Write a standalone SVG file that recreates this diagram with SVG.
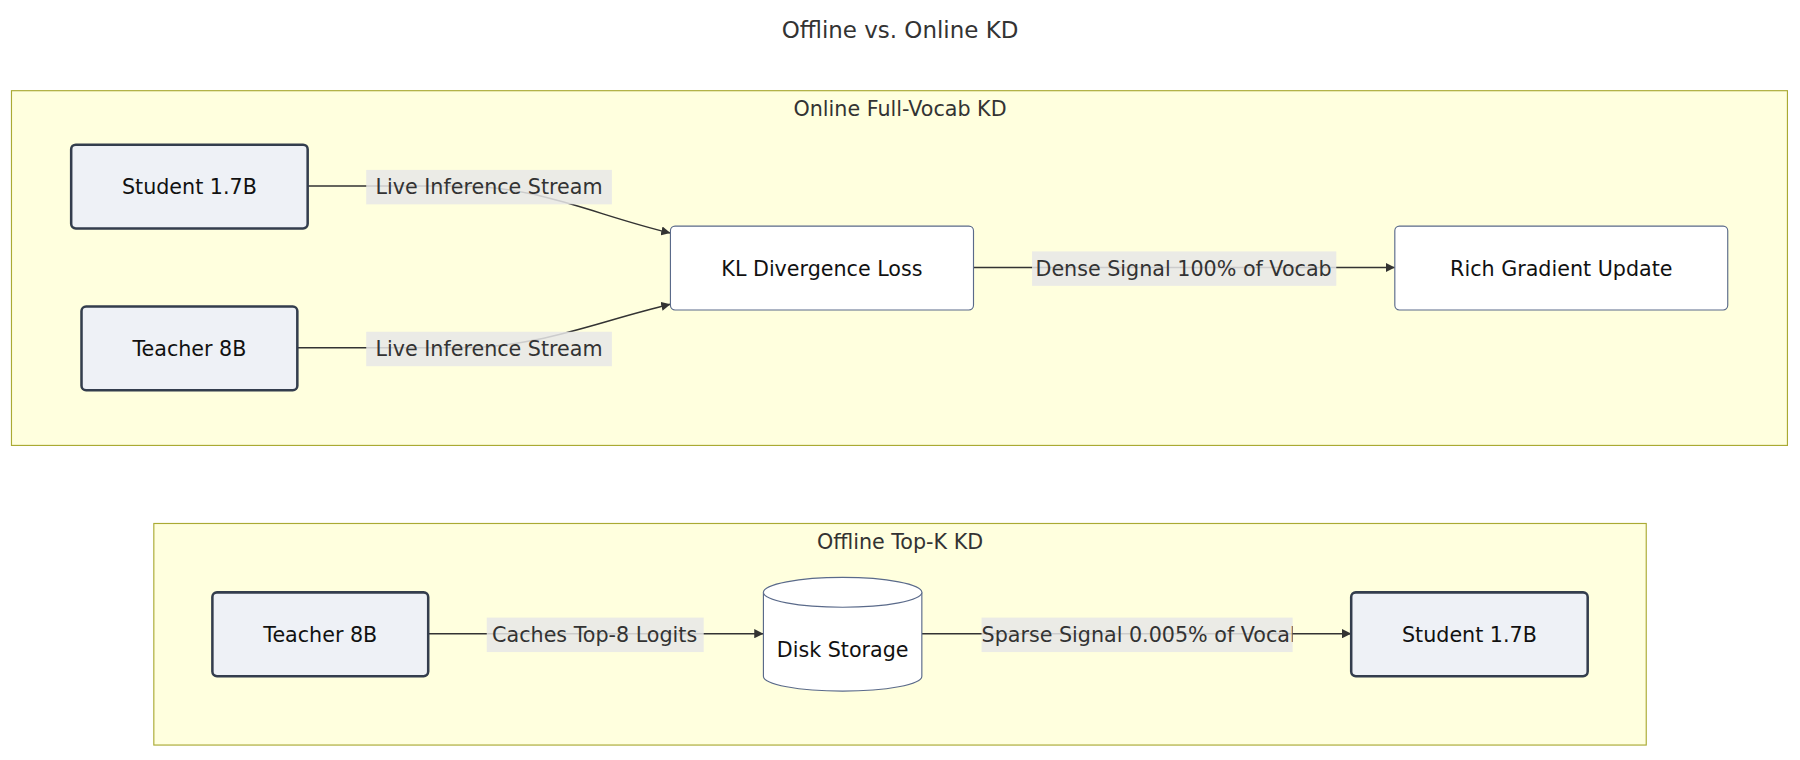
<svg xmlns="http://www.w3.org/2000/svg" width="1800" height="760" viewBox="0 0 1800 760">
<style>
text{font-family:"DejaVu Sans","Liberation Sans",sans-serif;fill:#333;text-anchor:middle;dominant-baseline:central}
.cl{fill:#ffffde;stroke:#aaaa33;stroke-width:1}
.n{fill:#eef1f6;stroke:#333d4d;stroke-width:2.2}
.w{fill:#fff;stroke:#5a6a8a;stroke-width:1}
.e{fill:none;stroke:#333;stroke-width:1.3}
.lb{fill:#e8e8e8;opacity:0.85}
.t{font-size:18px;fill:#111}
</style>
<defs>
<marker id="ar" viewBox="0 0 10 10" refX="10" refY="5" markerWidth="8" markerHeight="8" orient="auto" markerUnits="userSpaceOnUse"><path d="M0,0L10,5L0,10z" fill="#333"/></marker>
<clipPath id="cp"><rect x="855" y="536" width="271" height="32"/></clipPath>
</defs>
<rect width="1800" height="760" fill="#fff"/>
<g transform="scale(1.148)">
<text x="784" y="26" font-size="20">Offline vs. Online KD</text>
<g id="online"><rect class="cl" x="10" y="79" width="1547" height="309"/><text x="784" y="95" font-size="18">Online Full-Vocab KD</text></g>
<g id="offline"><rect class="cl" x="134" y="456" width="1300" height="193"/><text x="784" y="472" font-size="18">Offline Top-K KD</text></g>
<g id="connectors">
<path class="e" d="M268,162 L400,162 C470,162 520,188 584,203" marker-end="url(#ar)"/>
<path class="e" d="M259,303 L400,303 C470,303 520,280 584,265" marker-end="url(#ar)"/>
<path class="e" d="M848,233 L1215,233" marker-end="url(#ar)"/>
<path class="e" d="M373,552 L665,552" marker-end="url(#ar)"/>
<path class="e" d="M803,552 L1177,552" marker-end="url(#ar)"/>
<rect class="lb" x="319" y="148" width="214" height="30"/><text x="426" y="163" font-size="18">Live Inference Stream</text>
<rect class="lb" x="319" y="289" width="214" height="30"/><text x="426" y="304" font-size="18">Live Inference Stream</text>
<rect class="lb" x="899" y="219" width="265" height="30"/><text x="1031" y="234" font-size="18">Dense Signal 100% of Vocab</text>
<rect class="lb" x="424" y="538" width="189" height="30"/><text x="518" y="553" font-size="18">Caches Top-8 Logits</text>
<rect class="lb" x="855" y="538" width="271" height="30"/><text x="855" y="553" font-size="18" style="text-anchor:start" clip-path="url(#cp)">Sparse Signal 0.005% of Vocab</text>
</g>
<g id="n_student_on"><rect class="n" x="62" y="126" width="206" height="73" rx="4"/><text class="t" x="165" y="163">Student 1.7B</text></g>
<g id="n_teacher_on"><rect class="n" x="71" y="267" width="188" height="73" rx="4"/><text class="t" x="165" y="304">Teacher 8B</text></g>
<g id="n_kl"><rect class="w" x="584" y="197" width="264" height="73" rx="4"/><text class="t" x="716" y="234">KL Divergence Loss</text></g>
<g id="n_rich"><rect class="w" x="1215" y="197" width="290" height="73" rx="4"/><text class="t" x="1360" y="234">Rich Gradient Update</text></g>
<g id="n_teacher_off"><rect class="n" x="185" y="516" width="188" height="73" rx="4"/><text class="t" x="279" y="553">Teacher 8B</text></g>
<g id="n_disk"><path class="w" d="M665,516 A69,13 0 0 1 803,516 L803,589 A69,13 0 0 1 665,589 Z"/><path class="w" d="M665,516 A69,13 0 0 0 803,516" fill="none"/><text class="t" x="734" y="566">Disk Storage</text></g>
<g id="n_student_off"><rect class="n" x="1177" y="516" width="206" height="73" rx="4"/><text class="t" x="1280" y="553">Student 1.7B</text></g>
</g>
</svg>
